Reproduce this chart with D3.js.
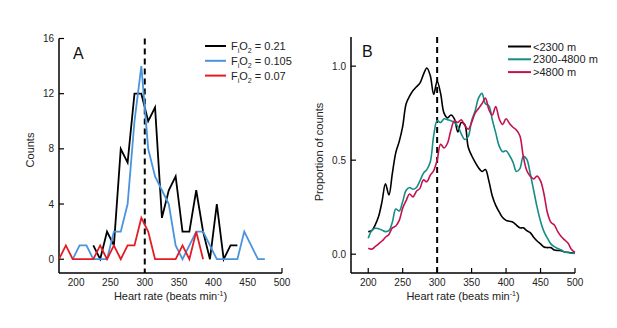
<!DOCTYPE html>
<html><head><meta charset="utf-8">
<script src="https://cdn.jsdelivr.net/npm/d3@7"></script>
<style>body{margin:0;background:#fff}svg{display:block}text{font-family:"Liberation Sans",Arial,sans-serif}</style>
</head><body><svg id="c" width="617" height="328"></svg>
<script>
// ---------- Panel A data (counts, 10-bpm bins) ----------
const aBlackX0 = 225, aBlueX0 = 195, aRedX0 = 175, aStep = 10;
const aBlack = [1,0,2,1,8,7,12,12,10,11,3,5,6,2,2,5,2,0,4,0,1,1];
const aBlue  = [0,1,1,0,0,0,2,2,4,10,14,8,6,5,4,1,0,1,2,2,1,0,0,0,0,2,1,0,0];
const aRed   = [0,1,0,0,0,0,1,0,1,0,1,1,3,2,0,0,0,0,1,0,2,0];
const aLegend = ["0.21","0.105","0.07"];
const aYTicks = [0,4,8,12,16];
// ---------- Panel B data (proportion, 5-bpm step from 200) ----------
const bX0 = 200, bStep = 5;
const bLow = [0.12,0.125,0.155,0.20,0.28,0.375,0.315,0.43,0.54,0.60,0.68,0.80,0.84,0.87,0.89,0.91,0.955,0.99,0.95,0.85,
  0.92,0.855,0.75,0.725,0.74,0.72,0.65,0.70,0.69,0.57,0.525,0.49,0.46,0.44,0.45,0.39,0.31,0.26,0.225,0.195,
  0.18,0.175,0.17,0.155,0.14,0.14,0.125,0.115,0.09,0.07,0.055,0.038,0.035,0.035,0.022,0.02,0.018,0.012,0.01,0.008,0.005];
const bMid = [0.085,0.125,0.138,0.135,0.128,0.12,0.125,0.17,0.24,0.23,0.28,0.34,0.355,0.345,0.355,0.39,0.43,0.45,0.49,0.63,
  0.71,0.70,0.72,0.715,0.71,0.70,0.68,0.64,0.61,0.625,0.71,0.76,0.83,0.855,0.80,0.79,0.715,0.645,0.575,0.545,
  0.55,0.525,0.49,0.44,0.455,0.52,0.505,0.43,0.34,0.25,0.175,0.12,0.085,0.055,0.04,0.03,0.022,0.012,0.008,0.005,0.004];
const bHigh = [0.032,0.027,0.04,0.055,0.07,0.09,0.105,0.14,0.15,0.18,0.245,0.285,0.32,0.305,0.335,0.35,0.395,0.385,0.42,0.445,
  0.50,0.585,0.565,0.59,0.66,0.71,0.70,0.715,0.685,0.665,0.70,0.75,0.775,0.80,0.83,0.77,0.74,0.785,0.72,0.69,
  0.72,0.695,0.675,0.66,0.63,0.52,0.445,0.415,0.40,0.415,0.39,0.32,0.22,0.17,0.155,0.12,0.094,0.076,0.058,0.025,0.01];
const bLegend = ["<2300 m","2300-4800 m",">4800 m"];
const bYTicks = [0,0.5,1.0];
const xTicks = [200,250,300,350,400,450,500];

const svg = d3.select("#c");
const font = "Liberation Sans, Arial, sans-serif";

function axisFrame(g, x, y, yTicks, yFmt, xTickMarks, yTickMarks) {
  const [x0] = x.range(); const [yb, yt] = y.range();
  // y axis
  g.append("line").attr("x1",x0).attr("x2",x0).attr("y1",yt).attr("y2",yb).attr("stroke","#000").attr("stroke-width",1.5);
  g.append("line").attr("x1",x0).attr("x2",x.range()[1]).attr("y1",yb).attr("y2",yb).attr("stroke","#000").attr("stroke-width",1.5);
  yTicks.forEach(v=>{
    if (yTickMarks) g.append("line").attr("x1",x0).attr("x2",x0+5).attr("y1",y(v)).attr("y2",y(v)).attr("stroke","#000").attr("stroke-width",1.2);
    g.append("text").attr("x",x0-5).attr("y",y(v)+3.5).attr("text-anchor","end").attr("font-size",10).attr("fill","#222").text(yFmt(v));
  });
  xTicks.forEach(v=>{
    if (xTickMarks.includes(v)) g.append("line").attr("x1",x(v)).attr("x2",x(v)).attr("y1",yb).attr("y2",yb-5).attr("stroke","#000").attr("stroke-width",1.2);
    g.append("text").attr("x",x(v)).attr("y",yb+13).attr("text-anchor","middle").attr("font-size",10).attr("fill","#222").text(v);
  });
  // x label
  const t = g.append("text").attr("x",(x(175)+x(500))/2).attr("y",yb+27).attr("text-anchor","middle").attr("font-size",11).attr("fill","#222");
  t.append("tspan").text("Heart rate (beats min");
  t.append("tspan").attr("dy",-4).attr("font-size",7).text("-1");
  t.append("tspan").attr("dy",4).text(")");
  // dashed 300 line
  g.append("line").attr("x1",x(300)).attr("x2",x(300)).attr("y1",yt).attr("y2",yb)
    .attr("stroke","#000").attr("stroke-width",2).attr("stroke-dasharray","6,4");
}

// ---------- Panel A ----------
const xA = d3.scaleLinear().domain([175,500]).range([59,282]);
const yA = d3.scaleLinear().domain([-1,16]).range([273,38.5]);
const gA = svg.append("g");
axisFrame(gA, xA, yA, aYTicks, d=>d, [500], true);
gA.append("text").attr("transform","translate(34,150) rotate(-90)").attr("text-anchor","middle").attr("font-size",11).attr("fill","#222").text("Counts");
gA.append("text").attr("x",73).attr("y",59).attr("font-size",16).attr("fill","#111").text("A");
const lineA = d3.line().x(d=>xA(d[0])).y(d=>yA(d[1]));
const aSeries = [[aBlack,aBlackX0,"#000"],[aBlue,aBlueX0,"#4a94de"],[aRed,aRedX0,"#e31c23"]];
aSeries.forEach(([vals,x0,col])=>{
  gA.append("path").attr("d",lineA(vals.map((v,i)=>[x0+i*aStep,v]))).attr("fill","none").attr("stroke",col).attr("stroke-width",1.8).attr("stroke-linejoin","miter");
});
aSeries.forEach(([vals,x0,col],i)=>{
  const yy = 46 + i*14.8;
  gA.append("line").attr("x1",205).attr("x2",226).attr("y1",yy).attr("y2",yy).attr("stroke",col).attr("stroke-width",2);
  const t = gA.append("text").attr("x",231).attr("y",yy+4).attr("font-size",11).attr("fill","#222");
  t.append("tspan").text("F");
  t.append("tspan").attr("dy",3).attr("font-size",7).text("i");
  t.append("tspan").attr("dy",-3).text("O");
  t.append("tspan").attr("dy",3).attr("font-size",7).text("2");
  t.append("tspan").attr("dy",-3).text(" = " + aLegend[i]);
});

// ---------- Panel B ----------
const xB = d3.scaleLinear().domain([175,500]).range([351,575]);
const yB = d3.scaleLinear().domain([-0.1,1.155]).range([273,37]);
const gB = svg.append("g");
axisFrame(gB, xB, yB, bYTicks, d3.format(".1f"), xTicks, true);
gB.append("text").attr("transform","translate(323,152) rotate(-90)").attr("text-anchor","middle").attr("font-size",11).attr("fill","#222").text("Proportion of counts");
gB.append("text").attr("x",362).attr("y",57).attr("font-size",16).attr("fill","#111").text("B");
const lineB = d3.line().x(d=>xB(d[0])).y(d=>yB(d[1])).curve(d3.curveCatmullRom);
const bSeries = [[bLow,"#000"],[bMid,"#178c86"],[bHigh,"#c4124f"]];
bSeries.forEach(([vals,col])=>{
  gB.append("path").attr("d",lineB(vals.map((v,i)=>[bX0+i*bStep,v]))).attr("fill","none").attr("stroke",col).attr("stroke-width",1.6);
});
bSeries.forEach(([vals,col],i)=>{
  const yy = 46.5 + i*12.8;
  gB.append("line").attr("x1",508).attr("x2",531).attr("y1",yy).attr("y2",yy).attr("stroke",col).attr("stroke-width",2);
  gB.append("text").attr("x",533).attr("y",yy+4).attr("font-size",11).attr("fill","#222").text(bLegend[i]);
});
</script></body></html>
